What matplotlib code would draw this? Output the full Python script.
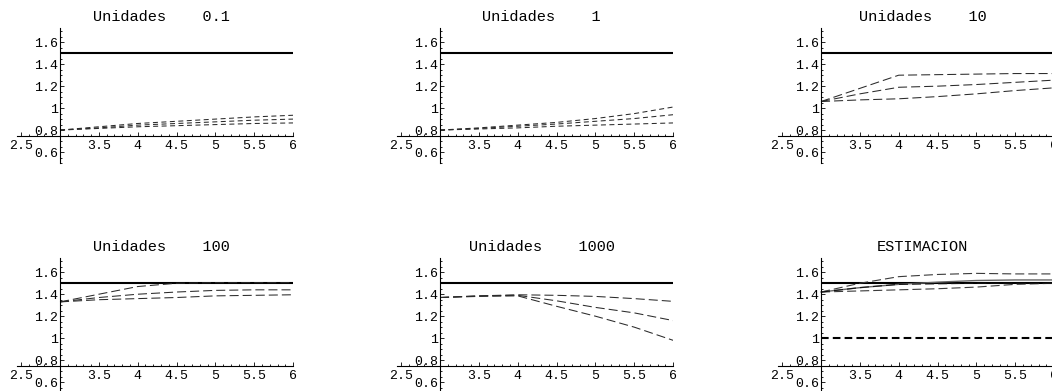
import matplotlib
matplotlib.use("Agg")
import matplotlib.pyplot as plt
from matplotlib.ticker import FixedLocator, FixedFormatter, MultipleLocator

plt.rcParams["lines.scale_dashes"] = False
plt.rcParams["font.family"] = ["Liberation Mono", "DejaVu Sans Mono"]

# ---- data -------------------------------------------------------------
x_vals = [3.0, 3.5, 4.0, 4.5, 5.0, 5.5, 6.0]
reference_level = 1.5
estimation_baseline = 1.0

titles = [
    "Unidades    0.1",
    "Unidades    1",
    "Unidades    10",
    "Unidades    100",
    "Unidades    1000",
    "ESTIMACION",
]

u_0_1 = [
    [0.80, 0.83, 0.86, 0.88, 0.90, 0.92, 0.935],
    [0.80, 0.82, 0.845, 0.86, 0.875, 0.89, 0.90],
    [0.80, 0.815, 0.83, 0.84, 0.85, 0.86, 0.865],
]
u_1 = [
    [0.80, 0.82, 0.845, 0.87, 0.905, 0.95, 1.01],
    [0.80, 0.815, 0.835, 0.855, 0.88, 0.905, 0.94],
    [0.80, 0.81, 0.82, 0.835, 0.845, 0.855, 0.865],
]
u_10 = [
    [1.06, 1.18, 1.30, 1.305, 1.31, 1.315, 1.315],
    [1.06, 1.13, 1.19, 1.20, 1.215, 1.235, 1.255],
    [1.06, 1.075, 1.085, 1.105, 1.13, 1.16, 1.185],
]
u_100 = [
    [1.33, 1.40, 1.47, 1.50, 1.505, 1.505, 1.505],
    [1.33, 1.37, 1.40, 1.42, 1.435, 1.44, 1.44],
    [1.33, 1.35, 1.36, 1.37, 1.385, 1.39, 1.395],
]
u_1000 = [
    [1.37, 1.385, 1.395, 1.39, 1.38, 1.36, 1.335],
    [1.37, 1.385, 1.39, 1.34, 1.28, 1.23, 1.16],
    [1.37, 1.38, 1.385, 1.29, 1.20, 1.10, 0.98],
]
estim_upper = [1.42, 1.50, 1.56, 1.58, 1.59, 1.585, 1.585]
estim_lower = [1.42, 1.43, 1.44, 1.45, 1.465, 1.49, 1.50]
estim_mean = [1.42, 1.46, 1.49, 1.51, 1.525, 1.53, 1.53]
estim_dark = [1.42, 1.46, 1.49, 1.495, 1.50, 1.50, 1.50]

x_tick_values = [2.5, 3.5, 4.0, 4.5, 5.0, 5.5, 6.0]
x_tick_labels = ["2.5", "3.5", "4", "4.5", "5", "5.5", "6"]
y_tick_values = [0.6, 0.8, 1.0, 1.2, 1.4, 1.6]
y_tick_labels = ["0.6", "0.8", "1", "1.2", "1.4", "1.6"]

# ---- layout -----------------------------------------------------------
W, H = 1052, 391
fig = plt.figure(figsize=(W / 100, H / 100), dpi=100)
fig.patch.set_facecolor("white")

XLIM = (2.45, 6.0)
YLIM = (0.5, 1.73)
ORIGIN = (3.0, 0.745)
ax_w_px, ax_h_px = 275.8, 135.0
col_left_px = [17.3, 397.3, 778.3]
row_top_px = [28.0, 258.0]


def make_axes(row, col):
    left = col_left_px[col] / W
    bottom = 1 - (row_top_px[row] + ax_h_px) / H
    ax = fig.add_axes([left, bottom, ax_w_px / W, ax_h_px / H])
    ax.patch.set_alpha(0)
    ax.set_xlim(*XLIM)
    ax.set_ylim(*YLIM)
    for s in ("top", "right"):
        ax.spines[s].set_visible(False)
    ax.spines["left"].set_position(("data", ORIGIN[0]))
    ax.spines["bottom"].set_position(("data", ORIGIN[1]))
    for s in ("left", "bottom"):
        ax.spines[s].set_linewidth(0.8)
        ax.spines[s].set_color("black")
    ax.xaxis.set_major_locator(FixedLocator(x_tick_values))
    ax.xaxis.set_major_formatter(FixedFormatter(x_tick_labels))
    ax.yaxis.set_major_locator(FixedLocator(y_tick_values))
    ax.yaxis.set_major_formatter(FixedFormatter(y_tick_labels))
    ax.xaxis.set_minor_locator(MultipleLocator(0.1))
    ax.yaxis.set_minor_locator(MultipleLocator(0.05))
    ax.tick_params(which="both", direction="in", width=0.6, labelsize=9.5,
                   colors="black")
    ax.tick_params(which="major", length=3)
    ax.tick_params(which="minor", length=1.5)
    ax.tick_params(axis="x", which="major", pad=2.5)
    ax.tick_params(axis="y", which="major", pad=1.5)
    return ax


def add_title(ax, text):
    ax.annotate(text, xy=(4.31, 1.0), xycoords=("data", "axes fraction"),
                xytext=(0, 8), textcoords="offset points",
                ha="center", va="center", fontsize=11, color="black",
                annotation_clip=False)


def draw_reference(ax):
    ax.plot([x_vals[0], x_vals[-1]], [reference_level, reference_level],
            color="black", lw=1.5, solid_capstyle="butt")


panels = [u_0_1, u_1, u_10, u_100, u_1000]
short_dash = (3.6, 2.5)
long_dash = (6.5, 2.9)

for i, series in enumerate(panels):
    ax = make_axes(i // 3, i % 3)
    draw_reference(ax)
    dash = short_dash if i < 2 else long_dash
    for ys in series:
        ax.plot(x_vals, ys, color="#2a2a2a", lw=0.75, dashes=dash)
    add_title(ax, titles[i])

ax = make_axes(1, 2)
draw_reference(ax)
ax.plot([x_vals[0], x_vals[-1]], [estimation_baseline, estimation_baseline],
        color="black", lw=1.5, dashes=(5.5, 3.0))
ax.plot(x_vals, estim_upper, color="#3a3a3a", lw=0.8, dashes=long_dash)
ax.plot(x_vals, estim_lower, color="#3a3a3a", lw=0.8, dashes=long_dash)
ax.plot(x_vals, estim_mean, color="#666666", lw=1.0)
ax.plot(x_vals, estim_dark, color="#111111", lw=0.8, dashes=long_dash)
add_title(ax, titles[5])

fig.savefig("out.png", dpi=100, facecolor="white")
